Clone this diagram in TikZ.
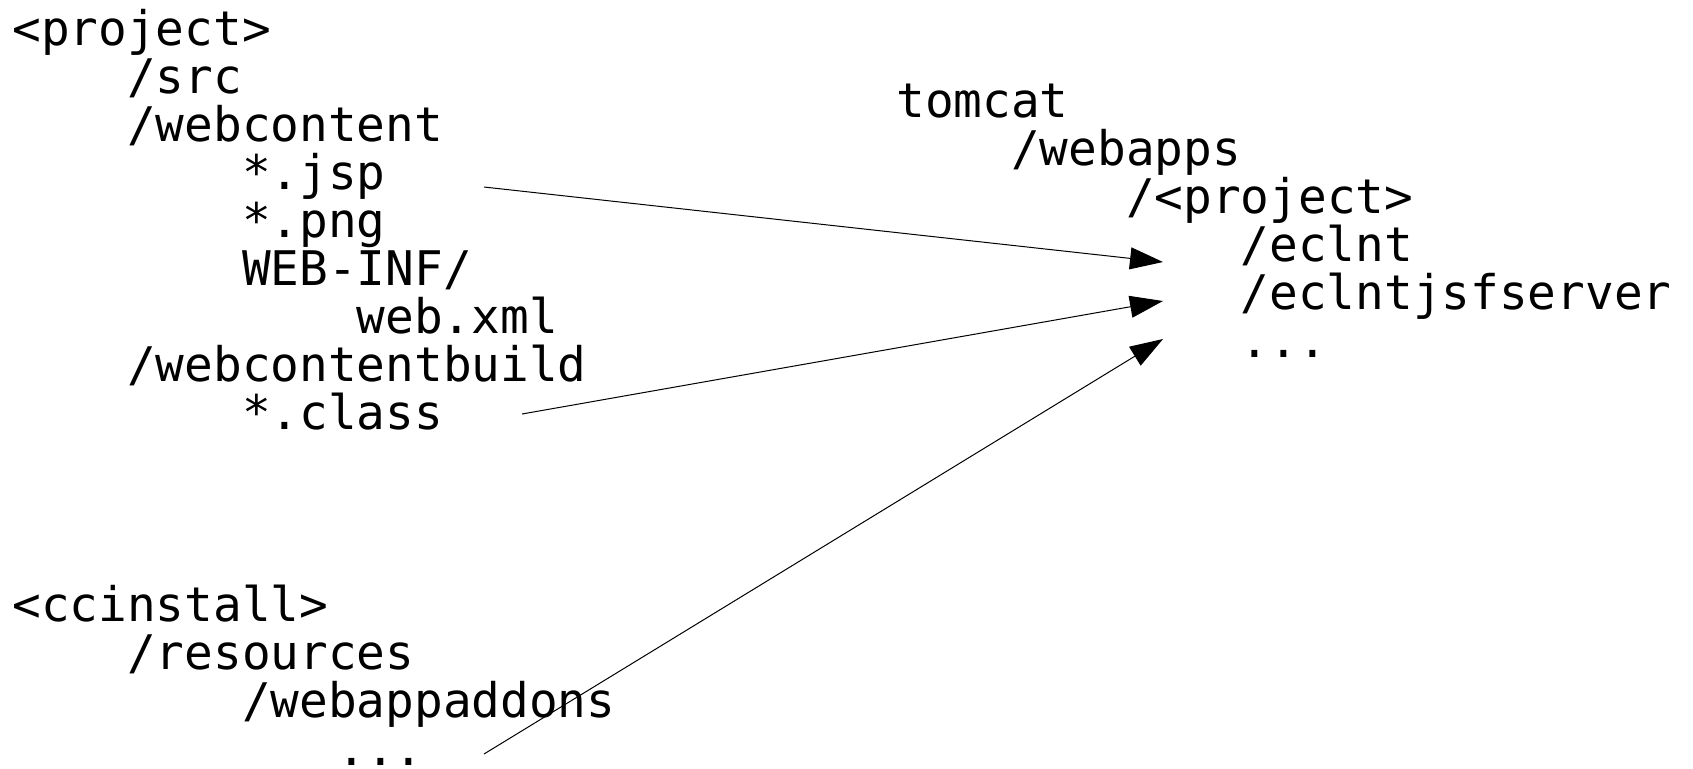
\documentclass[tikz,border=0pt]{standalone}
\usepackage{fontspec}
\usepackage{tikz}
\usetikzlibrary{arrows.meta}
\newfontfamily\treefont{DejaVu Sans Mono}

\begin{document}
\begin{tikzpicture}[x=0.5pt,y=-0.5pt,
  dir/.style={anchor=base west,inner sep=0pt,font=\treefont\fontsize{23.85pt}{24pt}\selectfont},
  copy/.style={-{Triangle[length=16.5pt,width=11pt]},line width=0.5pt}]
\useasboundingbox (0,0) rectangle (1693,768);

% source tree
\node[dir] (proj) at (12,45) {<project>};
\node[dir] (src) at (126.8,93) {/src};
\node[dir] (webcontent) at (126.8,141) {/webcontent};
\node[dir] (jsp) at (241.6,189) {*.jsp};
\node[dir] (png) at (241.6,237) {*.png};
\node[dir] (webinf) at (241.6,285) {WEB-INF/};
\node[dir] (webxml) at (356.4,333) {web.xml};
\node[dir] (build) at (126.8,381) {/webcontentbuild};
\node[dir] (class) at (241.6,429) {*.class};

% install tree
\node[dir] (ccinstall) at (12,621) {<ccinstall>};
\node[dir] (resources) at (126.8,669) {/resources};
\node[dir] (addons) at (241.6,717) {/webappaddons};
\node[dir] (addonmore) at (337,765) {...};

% tomcat tree
\node[dir] (tomcat) at (896,117) {tomcat};
\node[dir] (webapps) at (1010.8,165) {/webapps};
\node[dir] (deployed) at (1125.6,213) {/<project>};
\node[dir] (eclnt) at (1240.4,261) {/eclnt};
\node[dir] (jsfserver) at (1240.4,309) {/eclntjsfserver};
\node[dir] (more) at (1240.4,357) {...};

% copy arrows
\coordinate (jspout) at (484,187);
\coordinate (classout) at (522,414);
\coordinate (addonout) at (484,754);
\coordinate (eclntin) at (1163,262);
\coordinate (jsfin) at (1163,301);
\coordinate (morein) at (1163,339);
\draw[copy] (jspout) -- (eclntin);
\draw[copy] (classout) -- (jsfin);
\draw[copy] (addonout) -- (morein);
\end{tikzpicture}
\end{document}
